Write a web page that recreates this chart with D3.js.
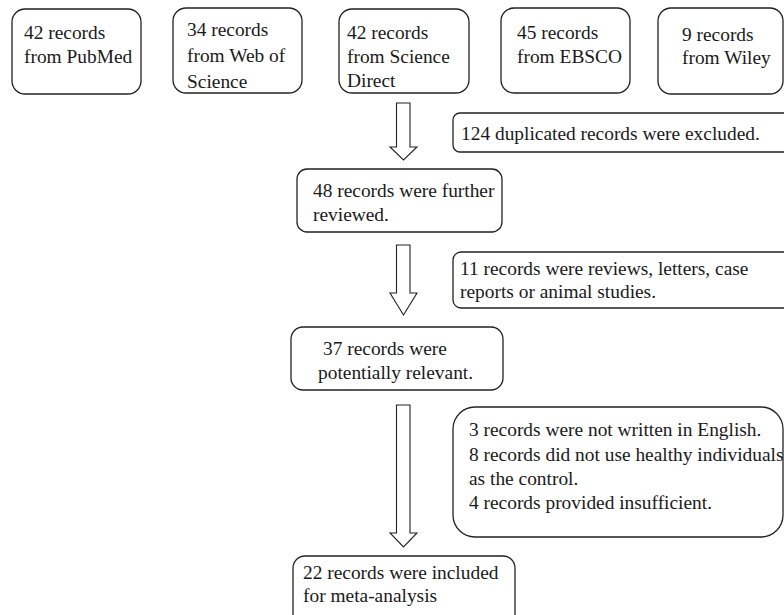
<!DOCTYPE html>
<html>
<head>
<meta charset="utf-8">
<script src="https://cdn.jsdelivr.net/npm/d3@7/dist/d3.min.js"></script>
</head>
<body style="margin:0">
<script>
// ---------- data ----------
const sourceCounts = [42, 34, 42, 45, 9];
const sourceLines = [
  ["42 records", "from PubMed"],
  ["34 records", "from Web of", "Science"],
  ["42 records", "from Science", "Direct"],
  ["45 records", "from EBSCO"],
  ["9 records", "from Wiley"]
];
const stageCounts = [48, 37, 22];
const stageLines = [
  ["48 records were further", "reviewed."],
  ["37 records were", "potentially relevant."],
  ["22 records were included", "for meta-analysis"]
];
const excludedCounts = [124, 11, 15];
const excludedLines = [
  ["124 duplicated records were excluded."],
  ["11 records were reviews, letters, case", "reports or animal studies."],
  ["3 records were not written in English.", "8 records did not use healthy individuals", "as the control.", "4 records provided insufficient."]
];

// ---------- layout ----------
const W = 784, H = 615;
const svg = d3.select("body").append("svg").attr("width", W).attr("height", H);
const fontSize = 19.4;
const fontFamily = "'Liberation Serif', 'Times New Roman', Times, serif";

const sourceBoxes = [
  {x0: 12, x1: 141, y0: 9, y1: 94, tx: 24, ty: [39, 63]},
  {x0: 173, x1: 302, y0: 8, y1: 93, tx: 187, ty: [36, 62, 88]},
  {x0: 339, x1: 469, y0: 9, y1: 93, tx: 347, ty: [39, 63, 87]},
  {x0: 501, x1: 630, y0: 8, y1: 93, tx: 517, ty: [39, 63]},
  {x0: 658, x1: 783, y0: 8, y1: 94, tx: 682, ty: [41, 64]}
];
const stageBoxes = [
  {x0: 297, x1: 502, y0: 169, y1: 232, r: 10, tx: [313, 313], ty: [197, 221]},
  {x0: 291, x1: 503, y0: 327, y1: 390, r: 12, tx: [323, 318], ty: [355, 379]},
  {x0: 293, x1: 515, y0: 556, y1: 640, r: 12, tx: [303, 303], ty: [579, 602]}
];
const exclBoxes = [
  {x0: 453, x1: 800, y0: 113, y1: 152, r: 7, tx: 461, ty: [139.5]},
  {x0: 453, x1: 800, y0: 252, y1: 308, r: 8, tx: 460, ty: [275, 298]},
  {x0: 453, x1: 783, y0: 407, y1: 537, r: 22, tx: 469, ty: [436, 461, 485, 509]}
];
const arrows = [
  {y0: 103, yh: 147, y1: 160},
  {y0: 245, yh: 293, y1: 315},
  {y0: 405, yh: 533, y1: 547}
];
const shaftX = [396.5, 410], headX = [390, 417];

function drawBox(b, r, lines, txs) {
  const g = svg.append("g");
  g.append("rect")
    .attr("x", b.x0).attr("y", b.y0)
    .attr("width", b.x1 - b.x0).attr("height", b.y1 - b.y0)
    .attr("rx", r).attr("ry", r)
    .attr("fill", "#fff").attr("stroke", "#222").attr("stroke-width", 1.3);
  g.selectAll("text").data(lines).join("text")
    .attr("x", (d, i) => Array.isArray(txs) ? txs[i] : txs)
    .attr("y", (d, i) => b.ty[i])
    .style("font-family", fontFamily)
    .attr("font-size", fontSize)
    .attr("fill", "#1a1a1a")
    .text(d => d);
}

sourceCounts.forEach((c, i) => drawBox(sourceBoxes[i], 13, sourceLines[i], sourceBoxes[i].tx));
stageCounts.forEach((c, i) => drawBox(stageBoxes[i], stageBoxes[i].r, stageLines[i], stageBoxes[i].tx));
excludedCounts.forEach((c, i) => drawBox(exclBoxes[i], exclBoxes[i].r, excludedLines[i], exclBoxes[i].tx));

const cx = (headX[0] + headX[1]) / 2;
svg.selectAll("path.arrow").data(arrows).join("path")
  .attr("class", "arrow")
  .attr("d", a => {
    const p = d3.path();
    p.moveTo(shaftX[0], a.y0);
    p.lineTo(shaftX[1], a.y0);
    p.lineTo(shaftX[1], a.yh);
    p.lineTo(headX[1], a.yh);
    p.lineTo(cx, a.y1);
    p.lineTo(headX[0], a.yh);
    p.lineTo(shaftX[0], a.yh);
    p.closePath();
    return p.toString();
  })
  .attr("fill", "#fff").attr("stroke", "#222").attr("stroke-width", 1.1);
</script>
</body>
</html>
